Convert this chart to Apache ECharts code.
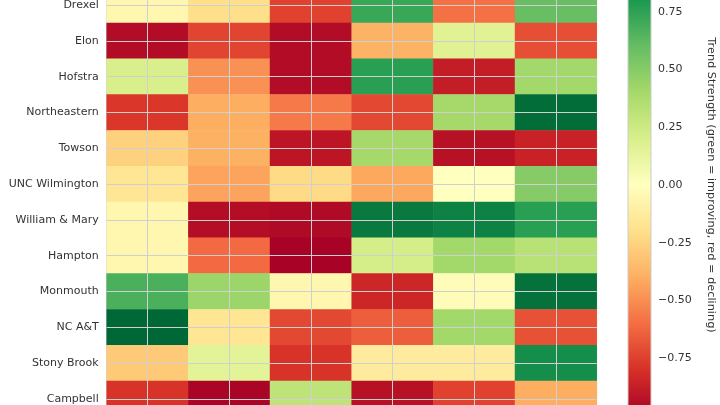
<!DOCTYPE html>
<html>
<head>
<meta charset="utf-8">
<script src="https://cdn.jsdelivr.net/npm/echarts@6/dist/echarts.min.js"></script>
<style>html,body{margin:0;padding:0;background:#fff}#c{width:720px;height:405px}</style>
</head>
<body>
<div id="c"></div>
<script>
const rows = ['Drexel','Elon','Hofstra','Northeastern','Towson','UNC Wilmington','William & Mary','Hampton','Monmouth','NC A&T','Stony Brook','Campbell'];
const cols = ['C1','C2','C3','C4','C5','C6'];
const drexel       = [-0.06, -0.20, -0.74,  0.72, -0.59,  0.59];
const elon         = [-0.95, -0.73, -0.95, -0.38,  0.16, -0.70];
const hofstra      = [ 0.20, -0.49, -0.95,  0.76, -0.88,  0.41];
const northeastern = [-0.78, -0.40, -0.56, -0.72,  0.40,  0.98];
const towson       = [-0.26, -0.39, -0.91,  0.40, -0.93, -0.86];
const uncw         = [-0.16, -0.43, -0.22, -0.42,  0.00,  0.50];
const wm           = [-0.06, -0.94, -0.96,  0.93,  0.89,  0.76];
const hampton      = [-0.06, -0.61, -0.99,  0.21,  0.41,  0.33];
const monmouth     = [ 0.67,  0.43, -0.06, -0.84, -0.02,  0.96];
const ncat         = [ 1.00, -0.16, -0.72, -0.65,  0.41, -0.69];
const stonybrook   = [-0.29,  0.15, -0.79, -0.13, -0.13,  0.84];
const campbell     = [-0.79, -0.98,  0.31, -0.93, -0.74, -0.40];
const values = [drexel, elon, hofstra, northeastern, towson, uncw, wm, hampton, monmouth, ncat, stonybrook, campbell];
const cbTicks = [-1, -0.75, -0.5, -0.25, 0, 0.25, 0.5, 0.75, 1];
const RdYlGn = ['#a50026','#d73027','#f46d43','#fdae61','#fee08b','#ffffbf','#d9ef8b','#a6d96a','#66bd63','#1a9850','#006837'];

const data = [];
values.forEach((r, yi) => r.forEach((v, xi) => data.push([xi, yi, v])));

const font = 'DejaVu Sans';
const chart = echarts.init(document.getElementById('c'));
const gridLines = cols.map(c => ({xAxis: c})).concat(rows.map(r => ({yAxis: r})));

chart.setOption({
  animation: false,
  textStyle: {fontFamily: font},
  grid: [
    {left: 106.7, top: -12.8, width: 490, height: 429.6, show: true, borderColor: '#cccccc', borderWidth: 1, backgroundColor: 'transparent', outerBoundsMode: 'none', containLabel: false},
    {left: 628, top: -45.8, width: 23, height: 461.6, outerBoundsMode: 'none', containLabel: false}
  ],
  xAxis: [
    {type: 'category', data: cols, gridIndex: 0, axisLabel: {show: false}, axisTick: {show: false}, axisLine: {show: false}, splitLine: {show: false}},
    {type: 'value', gridIndex: 1, min: 0, max: 1, show: false}
  ],
  yAxis: [
    {type: 'category', data: rows, gridIndex: 0, inverse: true,
     axisLabel: {fontSize: 11, color: '#333', margin: 8, fontFamily: font},
     axisTick: {show: false}, axisLine: {show: false}, splitLine: {show: false}},
    {type: 'value', gridIndex: 1, min: -1, max: 1, interval: 0.25, position: 'right',
     axisLabel: {fontSize: 11, color: '#333', margin: 7, fontFamily: font,
       formatter: v => (v < 0 ? '\u2212' : '') + Math.abs(v).toFixed(2)},
     axisTick: {show: true, length: 3.5, lineStyle: {color: '#333', width: 0.8}},
     axisLine: {show: false}, splitLine: {show: false},
     name: 'Trend Strength (green = improving, red = declining)', nameLocation: 'middle', nameRotate: -90, nameGap: 54,
     nameTextStyle: {fontSize: 11.3, color: '#333', fontFamily: font}}
  ],
  visualMap: {show: false, min: -1, max: 1, seriesIndex: 0, inRange: {color: RdYlGn}},
  series: [
    {type: 'heatmap', xAxisIndex: 0, yAxisIndex: 0, data: data,
     markLine: {silent: true, symbol: ['none','none'], label: {show: false}, animation: false,
       lineStyle: {color: '#d0d0d0', width: 1, type: 'solid'}, emphasis: {disabled: true}, data: gridLines}},
    {type: 'custom', xAxisIndex: 1, yAxisIndex: 1, data: [[0, 1, -1]], silent: true,
     renderItem: function (params, api) {
       const top = api.coord([0, api.value(1)]);
       const bot = api.coord([0, api.value(2)]);
       const cs = params.coordSys;
       const stops = RdYlGn.slice().reverse().map((c, i) => ({offset: i / (RdYlGn.length - 1), color: c}));
       return {type: 'rect', shape: {x: cs.x, y: top[1], width: cs.width, height: bot[1] - top[1]},
         style: {fill: new echarts.graphic.LinearGradient(0, 0, 0, 1, stops), stroke: '#cccccc', lineWidth: 1}};
     }}
  ]
});
</script>
</body>
</html>
